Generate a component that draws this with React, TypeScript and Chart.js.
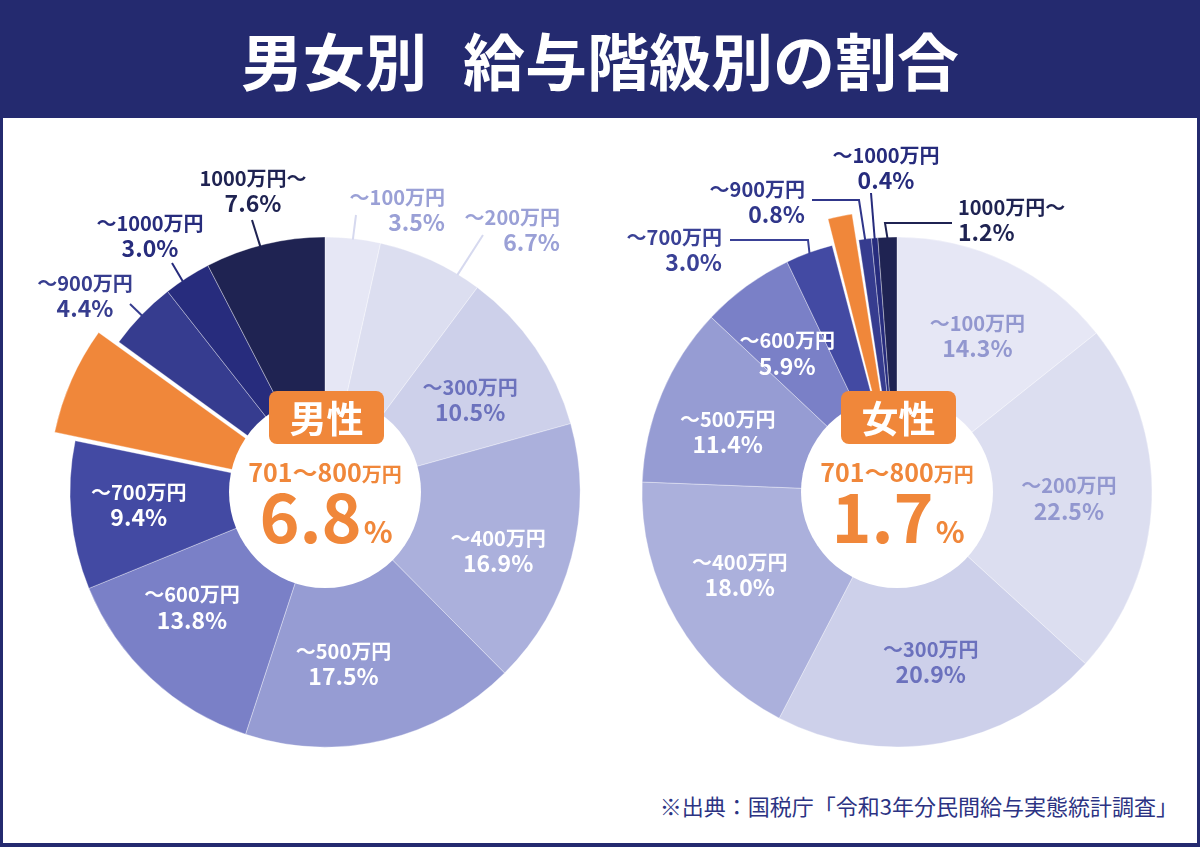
import { useEffect, useRef } from "react";
import { Chart, registerables } from "chart.js";

Chart.register(...registerables);

const FONT = '"Noto Sans CJK JP", "Noto Sans", sans-serif';

// 給与階級（区分）
const categories = [
  "〜100万円",
  "〜200万円",
  "〜300万円",
  "〜400万円",
  "〜500万円",
  "〜600万円",
  "〜700万円",
  "701〜800万円",
  "〜900万円",
  "〜1000万円",
  "1000万円〜",
];

// 構成比（%）
const maleShares = [3.5, 6.7, 10.5, 16.9, 17.5, 13.8, 9.4, 6.8, 4.4, 3.0, 7.6];
const femaleShares = [14.3, 22.5, 20.9, 18.0, 11.4, 5.9, 3.0, 1.7, 0.8, 0.4, 1.2];

// 強調する階級（701〜800万円）
const highlightIndex = 7;

const ORANGE = "#f0873a";
const NAVY = "#242a6f";

const sliceColors = [
  "#e6e7f5",
  "#dcdef0",
  "#cdd0ea",
  "#abb0dc",
  "#969cd3",
  "#7a80c7",
  "#434aa3",
  ORANGE,
  "#363c8f",
  "#272c7d",
  "#1f2352",
];

type InLabel = { kind: "in"; color: string; nudge: [number, number] };
type OutLabel = {
  kind: "out";
  color: string;
  lineColor: string;
  align: CanvasTextAlign;
  x: number;
  y: number;
  t: number;
  path: [number, number][];
};
type LabelSpec = InLabel | OutLabel | null;

const LIGHT_TEXT = "#9aa0d6";
const LIGHT_LINE = "#d6d9ef";

// ラベル配置（円の中心からの相対位置）
const maleLabels: LabelSpec[] = [
  { kind: "out", color: LIGHT_TEXT, lineColor: LIGHT_LINE, align: "right", x: 120, y: -295, t: 0.5, path: [[31, -277]] },
  { kind: "out", color: LIGHT_TEXT, lineColor: LIGHT_LINE, align: "right", x: 235, y: -275, t: 0.78, path: [[158, -257]] },
  { kind: "in", color: "#6c72bd", nudge: [0, 7] },
  { kind: "in", color: "#ffffff", nudge: [3, 13] },
  { kind: "in", color: "#ffffff", nudge: [-22, 0] },
  { kind: "in", color: "#ffffff", nudge: [-13, -14] },
  { kind: "in", color: "#ffffff", nudge: [-11, -4] },
  null,
  { kind: "out", color: "#373d8f", lineColor: "#373d8f", align: "center", x: -240, y: -209, t: 0.5, path: [[-195, -188]] },
  { kind: "out", color: "#272c7d", lineColor: "#272c7d", align: "center", x: -175, y: -269, t: 0.38, path: [[-153, -229]] },
  { kind: "out", color: "#1f2352", lineColor: "#1f2352", align: "center", x: -72, y: -314, t: 0.46, path: [[-73, -272]] },
];

const femaleLabels: LabelSpec[] = [
  { kind: "in", color: "#9297cf", nudge: [4, 2] },
  { kind: "in", color: "#9297cf", nudge: [-4, 0] },
  { kind: "in", color: "#6b71bd", nudge: [3, -4] },
  { kind: "in", color: "#ffffff", nudge: [-5, -6] },
  { kind: "in", color: "#ffffff", nudge: [-7, 7] },
  { kind: "in", color: "#ffffff", nudge: [-6, 3] },
  { kind: "out", color: "#3a4196", lineColor: "#3a4196", align: "right", x: -175, y: -255, t: 0.5, path: [[-89, -252], [-167, -252]] },
  null,
  { kind: "out", color: "#30368a", lineColor: "#30368a", align: "right", x: -92, y: -303, t: 0.5, path: [[-38, -292], [-85, -292]] },
  { kind: "out", color: "#262b7c", lineColor: "#262b7c", align: "center", x: -11, y: -337, t: 0.5, path: [[-26, -299]] },
  { kind: "out", color: "#1f2352", lineColor: "#1f2352", align: "left", x: 61, y: -285, t: 0.5, path: [[-12, -269], [55, -269]] },
];

const RADIUS = 255;
const HOLE = 96;
const LABEL_R = 176;
const EXPLODE = 56;

function drawTwoLines(ctx: CanvasRenderingContext2D, x: number, y1: number, align: CanvasTextAlign, color: string, a: string, b: string) {
  ctx.fillStyle = color;
  ctx.textAlign = align;
  ctx.textBaseline = "middle";
  ctx.font = `bold 20px ${FONT}`;
  ctx.fillText(a, x, y1);
  ctx.font = `bold 23px ${FONT}`;
  ctx.fillText(b, x, y1 + 25);
}

function makeOverlay(badge: string, values: number[], labels: LabelSpec[]) {
  return {
    id: "overlay-" + badge,
    afterDatasetsDraw(chart: Chart) {
      const ctx = chart.ctx;
      const meta = chart.getDatasetMeta(0);
      const first: any = meta.data[0];
      const { x: cx, y: cy } = first.getProps(["x", "y"], true);
      ctx.save();

      // 中央の白丸
      ctx.beginPath();
      ctx.arc(cx, cy, HOLE, 0, Math.PI * 2);
      ctx.fillStyle = "#ffffff";
      ctx.fill();

      meta.data.forEach((el: any, i: number) => {
        const spec = labels[i];
        if (!spec) return;
        const { startAngle, endAngle, outerRadius } = el.getProps(["startAngle", "endAngle", "outerRadius"], true);
        const line1 = categories[i];
        const line2 = `${values[i].toFixed(1)}%`;
        if (spec.kind === "in") {
          const mid = (startAngle + endAngle) / 2;
          const px = cx + Math.cos(mid) * LABEL_R + spec.nudge[0];
          const py = cy + Math.sin(mid) * LABEL_R + spec.nudge[1];
          drawTwoLines(ctx, px, py - 12, "center", spec.color, line1, line2);
        } else {
          const a = startAngle + (endAngle - startAngle) * spec.t;
          const sx = cx + Math.cos(a) * (outerRadius - 1);
          const sy = cy + Math.sin(a) * (outerRadius - 1);
          ctx.beginPath();
          ctx.moveTo(sx, sy);
          spec.path.forEach(([dx, dy]) => ctx.lineTo(cx + dx, cy + dy));
          ctx.strokeStyle = spec.lineColor;
          ctx.lineWidth = 2;
          ctx.stroke();
          drawTwoLines(ctx, cx + spec.x, cy + spec.y, spec.align, spec.color, line1, line2);
        }
      });

      // 性別バッジ
      const bw = 115;
      const bh = 53;
      const bx = cx + 1.5 - bw / 2;
      const by = cy - 101;
      ctx.beginPath();
      (ctx as any).roundRect(bx, by, bw, bh, 8);
      ctx.fillStyle = ORANGE;
      ctx.fill();
      ctx.fillStyle = "#ffffff";
      ctx.textAlign = "center";
      ctx.textBaseline = "middle";
      ctx.font = `bold 37px ${FONT}`;
      ctx.fillText(badge, cx + 1.5, by + bh / 2 + 1);

      // 強調階級の名称と割合
      ctx.fillStyle = ORANGE;
      ctx.textAlign = "left";
      ctx.textBaseline = "alphabetic";
      const head = "701〜800";
      const unit = "万円";
      ctx.font = `bold 25px ${FONT}`;
      const wHead = ctx.measureText(head).width;
      ctx.font = `bold 20px ${FONT}`;
      const wUnit = ctx.measureText(unit).width;
      let x0 = cx - (wHead + wUnit) / 2;
      ctx.font = `bold 25px ${FONT}`;
      ctx.fillText(head, x0, cy - 10);
      ctx.font = `bold 20px ${FONT}`;
      ctx.fillText(unit, x0 + wHead, cy - 10);

      const num = values[highlightIndex].toFixed(1);
      ctx.font = `bold 68px ${FONT}`;
      const wNum = ctx.measureText(num).width;
      ctx.font = `bold 30px ${FONT}`;
      const wPct = ctx.measureText("%").width;
      x0 = cx - (wNum + wPct) / 2;
      ctx.font = `bold 68px ${FONT}`;
      ctx.fillText(num, x0, cy + 51);
      ctx.font = `bold 30px ${FONT}`;
      ctx.fillText("%", x0 + wNum + 2, cy + 51);

      ctx.restore();
    },
  };
}

function Donut({ values, badge, labels, left }: { values: number[]; badge: string; labels: LabelSpec[]; left: number }) {
  const ref = useRef<HTMLCanvasElement | null>(null);
  useEffect(() => {
    if (!ref.current) return;
    const chart = new Chart(ref.current, {
      type: "pie",
      data: {
        labels: categories,
        datasets: [
          {
            data: values,
            backgroundColor: sliceColors,
            borderColor: "rgba(255,255,255,0.35)",
            borderWidth: 1,
            offset: values.map((_, i) => (i === highlightIndex ? EXPLODE : 0)),
          },
        ],
      },
      options: {
        responsive: false,
        animation: false,
        radius: RADIUS,
        layout: { padding: 0 },
        plugins: { legend: { display: false }, tooltip: { enabled: false } },
      } as any,
      plugins: [makeOverlay(badge, values, labels)],
    });
    return () => chart.destroy();
  }, [values, badge, labels]);
  return (
    <canvas
      ref={ref}
      width={600}
      height={720}
      style={{ position: "absolute", left, top: 132, width: 600, height: 720 }}
    />
  );
}

export default function App() {
  return (
    <div
      style={{
        position: "absolute",
        left: 0,
        top: 0,
        width: 1200,
        height: 847,
        background: "#ffffff",
        overflow: "hidden",
        fontFamily: FONT,
      }}
    >
      <div
        style={{
          position: "absolute",
          left: 0,
          top: 0,
          width: 1200,
          height: 118,
          background: NAVY,
          color: "#ffffff",
          fontWeight: 700,
          fontSize: 62,
          lineHeight: "118px",
          textAlign: "center",
          whiteSpace: "pre",
        }}
      >
        <span>男女別</span>
        <span style={{ display: "inline-block", width: 36 }} />
        <span>給与階級別の割合</span>
      </div>
      <div
        style={{
          position: "absolute",
          left: 0,
          top: 118,
          width: 1200,
          height: 729,
          boxSizing: "border-box",
          borderLeft: `3px solid ${NAVY}`,
          borderRight: `3px solid ${NAVY}`,
          borderBottom: `4px solid ${NAVY}`,
        }}
      />
      <div
        style={{
          position: "absolute",
          right: 22,
          top: 790,
          fontSize: 22,
          lineHeight: "30px",
          color: "#2c3383",
          whiteSpace: "pre",
        }}
      >
        ※出典：国税庁「令和3年分民間給与実態統計調査」
      </div>
      <Donut values={maleShares} badge="男性" labels={maleLabels} left={25} />
      <Donut values={femaleShares} badge="女性" labels={femaleLabels} left={597} />
    </div>
  );
}
